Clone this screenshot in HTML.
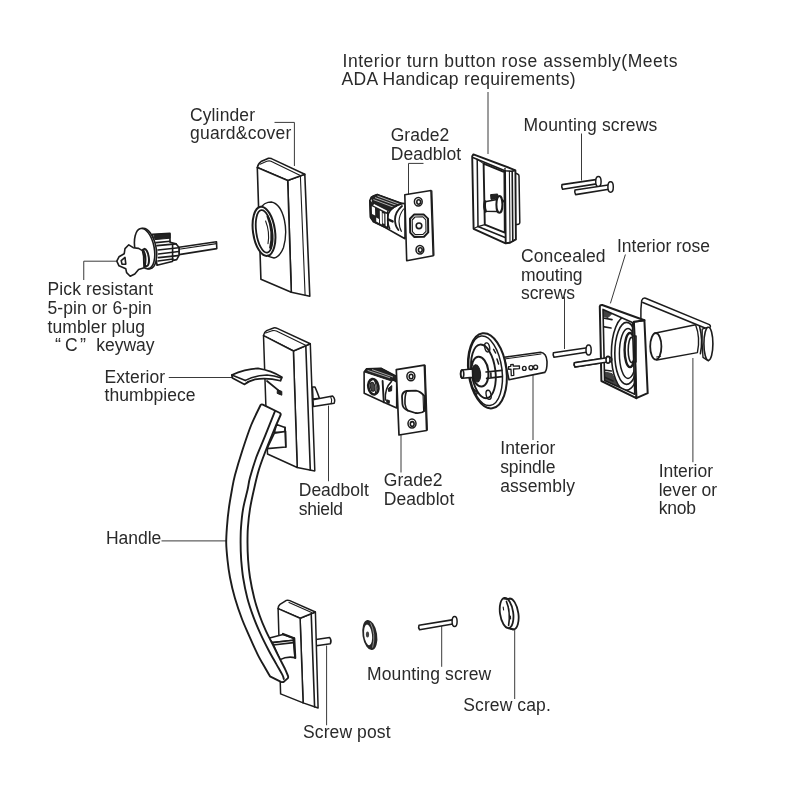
<!DOCTYPE html>
<html><head><meta charset="utf-8"><title>Handleset exploded diagram</title>
<style>
html,body{margin:0;padding:0;background:#fff;}
body{width:800px;height:800px;overflow:hidden;font-family:"Liberation Sans",sans-serif;}
svg{display:block;filter:blur(0.35px);}
text{font-family:"Liberation Sans",sans-serif;font-size:17.5px;fill:#2a2a2a;}
.ld{stroke:#3a3a3a;stroke-width:1;fill:none;}
.p{stroke:#1c1c1c;stroke-width:1.6;fill:#fff;stroke-linejoin:round;stroke-linecap:round;}
.n{stroke:#1c1c1c;stroke-width:1.6;fill:none;stroke-linejoin:round;stroke-linecap:round;}
.t{stroke:#1c1c1c;stroke-width:1.1;fill:none;stroke-linejoin:round;stroke-linecap:round;}
.k{stroke:#1c1c1c;stroke-width:2;fill:none;stroke-linejoin:round;stroke-linecap:round;}
.d{fill:#222;stroke:#1c1c1c;stroke-width:1;stroke-linejoin:round;}
</style></head>
<body>
<svg width="800" height="800" viewBox="0 0 800 800">
<rect width="800" height="800" fill="#ffffff"/>

<!-- ================= LABELS ================= -->
<g id="labels">
<text x="342.5" y="67" textLength="335" lengthAdjust="spacing">Interior turn button rose assembly(Meets</text>
<text x="341.5" y="85" textLength="234" lengthAdjust="spacing">ADA Handicap requirements)</text>
<text x="190" y="120.5" textLength="65" lengthAdjust="spacing">Cylinder</text>
<text x="190" y="139.2" textLength="101.3" lengthAdjust="spacing">guard&amp;cover</text>
<text x="390.7" y="140.7" textLength="58.5" lengthAdjust="spacing">Grade2</text>
<text x="390.7" y="159.5" textLength="70.5" lengthAdjust="spacing">Deadblot</text>
<text x="523.5" y="131" textLength="133.7" lengthAdjust="spacing">Mounting screws</text>
<text x="521" y="262" textLength="84.6" lengthAdjust="spacing">Concealed</text>
<text x="521" y="280.9" textLength="61.5" lengthAdjust="spacing">mouting</text>
<text x="521" y="298.9" textLength="54" lengthAdjust="spacing">screws</text>
<text x="617" y="252.1" textLength="93" lengthAdjust="spacing">Interior rose</text>
<text x="47.5" y="295" textLength="105.5" lengthAdjust="spacing">Pick resistant</text>
<text x="47.5" y="313.75" textLength="104.2" lengthAdjust="spacing">5-pin or 6-pin</text>
<text x="47.5" y="332.5" textLength="97.5" lengthAdjust="spacing">tumbler plug</text>
<text x="55" y="351.25" style="font-size:18px">“</text>
<text x="65" y="351.25">C</text>
<text x="80" y="351.25" style="font-size:18px">”</text>
<text x="96.25" y="351.25" textLength="58.2" lengthAdjust="spacing">keyway</text>
<text x="104.5" y="382.5" textLength="60.5" lengthAdjust="spacing">Exterior</text>
<text x="104.5" y="401.25" textLength="91" lengthAdjust="spacing">thumbpiece</text>
<text x="298.75" y="496.25" textLength="70" lengthAdjust="spacing">Deadbolt</text>
<text x="298.75" y="515" textLength="44.3" lengthAdjust="spacing">shield</text>
<text x="383.75" y="485.75" textLength="58.75" lengthAdjust="spacing">Grade2</text>
<text x="383.75" y="504.5" textLength="70.5" lengthAdjust="spacing">Deadblot</text>
<text x="500.15" y="454.45" textLength="55.25" lengthAdjust="spacing">Interior</text>
<text x="500.15" y="473" textLength="55.25" lengthAdjust="spacing">spindle</text>
<text x="500.15" y="491.5" textLength="74.75" lengthAdjust="spacing">assembly</text>
<text x="658.7" y="476.9" textLength="54.3" lengthAdjust="spacing">Interior</text>
<text x="658.7" y="495.7" textLength="58.5" lengthAdjust="spacing">lever or</text>
<text x="658.7" y="514.2" textLength="37.4" lengthAdjust="spacing">knob</text>
<text x="105.9" y="544.3" textLength="55.35" lengthAdjust="spacing">Handle</text>
<text x="367" y="679.75" textLength="124.25" lengthAdjust="spacing">Mounting screw</text>
<text x="463.25" y="711.25" textLength="87.5" lengthAdjust="spacing">Screw cap.</text>
<text x="303" y="737.5" textLength="87.5" lengthAdjust="spacing">Screw post</text>
</g>

<!-- ================= LEADERS ================= -->
<g id="leaders">
<path class="ld" d="M274.5 122.4H294.4V166"/>
<path class="ld" d="M423.5 163.4H408.5V200"/>
<path class="ld" d="M488 92V154"/>
<path class="ld" d="M581.5 133.5V180.5"/>
<path class="ld" d="M564.5 296.5V349"/>
<path class="ld" d="M625.4 254.5L610.4 303.4"/>
<path class="ld" d="M116.6 261.2H83.75V280"/>
<path class="ld" d="M168.75 377.5H232"/>
<path class="ld" d="M328.5 405.6V481.25"/>
<path class="ld" d="M401 435V472.5"/>
<path class="ld" d="M533 375V440"/>
<path class="ld" d="M692.9 358V462.2"/>
<path class="ld" d="M161.5 540.9H226"/>
<path class="ld" d="M441.7 625.4V666.8"/>
<path class="ld" d="M514.7 628V699"/>
<path class="ld" d="M326.6 645.6V725.25"/>
</g>

<!-- ===== KEY CYLINDER ===== -->
<g id="keycyl">
  <!-- tail bar -->
  <path class="p" d="M179 247.2L216.5 241.8L216.8 248.6L179 254.6Z"/>
  <path class="t" d="M179 249.2L216.6 243.6"/>
  <!-- body -->
  <path class="p" d="M152.5 234.3L170 233.4L170 242.3L176 243.8L179 247.5L179 255.3L176.7 259.6L173 260.4L172.2 261.5L157 265.2Z"/>
  <path class="d" d="M154 234.6L170 233.6L170 238.2L155 239.6Z"/>
  <path class="n" d="M156 242.6L170 241.2M157 245.6L176 243.9M158 250L178.8 247.7M158.5 254L178.8 251.5M158.5 257.6L178 255.6M158 261L173 259"/>
  <path class="n" d="M172.6 244.2L172.6 260.6"/>
  <!-- disc -->
  <ellipse class="p" cx="146.3" cy="248.6" rx="9.8" ry="20.6" transform="rotate(-11 146.3 248.6)"/>
  <ellipse class="p" cx="144.6" cy="248.6" rx="9.6" ry="20.4" transform="rotate(-11 144.6 248.6)"/>
  <!-- plug collar -->
  <ellipse class="k" cx="145.4" cy="257.6" rx="3.4" ry="8.8" transform="rotate(-8 145.4 257.6)" style="fill:#fff"/>
  <!-- key head -->
  <path class="p" d="M116.8 261.2L119 256.8L124.2 253.8L125 248.6L128.8 244.8L133.2 247.7L138.6 248.4L142.4 250.6L143.6 256L143.8 263L144.2 267.8L138.6 269.4L134.8 274L130.2 276.2L126.6 272.6L125.8 268.8L119 265.8Z"/>
  <path class="n" d="M121.2 260.6L125 257.4L125.8 264.2L122 264.2Z"/>
  <path class="n" d="M143.4 250.4Q146.6 256.6 144.6 266.6" style="stroke-width:2.2"/>
</g>

<!-- ===== CYLINDER GUARD ===== -->
<g id="guard">
  <!-- side face -->
  <path class="p" d="M287.7 180.4L304.8 174.2L309.8 296.3L291.3 292.3Z"/>
  <path class="t" d="M300.4 176.4L305.1 295.2"/>
  <!-- top face -->
  <path class="p" d="M257.3 167.6Q258 163.4 261 161.6L268 158.4Q269.6 158 271.4 158.6L304.8 174.2L287.7 180.4Z"/>
  <path class="t" d="M260 164.2L266.8 161.2Q269.4 160.6 271 161.2L299.8 175.2"/>
  <!-- front face -->
  <path class="p" d="M257.3 167.6L287.7 180.4L291.3 292.3L260.9 279.2Z"/>
  <!-- collar -->
  <path class="p" d="M261.4 206.8Q264.6 203 268 202.4L271.3 202Q280.6 203.6 284.4 220Q287.4 234 283.5 247.5Q280 256.8 274 258L268.4 256.4Z" style="stroke-width:1.4"/>
  <ellipse class="p" cx="264" cy="231.3" rx="11" ry="24.8" transform="rotate(-8 264 231.3)" style="stroke-width:2"/>
  <ellipse class="n" cx="264.2" cy="231.4" rx="8" ry="21.4" transform="rotate(-8 264.2 231.4)" style="stroke-width:1.8"/>
  <path class="n" d="M267.6 216.4Q274 232 270.2 247.8" style="stroke-width:2.2"/>
  <path class="t" d="M265.6 221Q270 232 268 243.6"/>
</g>

<!-- ===== UPPER LATCH ===== -->
<g id="latch1">
  <!-- dark body -->
  <path class="p" d="M369.8 200.6L371.2 197.2L377.2 194.4L402 203.4L405 203.6L405 238.8L397 234.2L384.8 227.4L373.4 221.8L370.4 217.2Z"/>
  <path class="d" d="M371.2 197.2L373.2 195.6L377.2 194.4L402 203.4L398.4 205.2L388 211L373 203Z"/>
  <path d="M373.4 199.6L394.6 207.6M375 197.6L397.6 205.8M377.4 196L400 204.4" stroke="#fff" stroke-width="0.8" fill="none" opacity="0.8"/>
  <path class="d" d="M369.8 200.8L373 203.2L388 211.2L388 228.4L384.8 227.4L373.4 221.8L370.4 217.2Z"/>
  <path d="M373.6 204.8L387 211.6" stroke="#fff" stroke-width="1.7" fill="none"/>
  <path d="M371.8 206.2L375 207.8L375.2 215.6L372 214Z M376.2 217.6L379 219L379 223L376.2 221.6Z M379.8 210.4L381.8 211.4L382 224.4L380 223.4Z M382.6 213L384.2 213.8L384.3 224L382.7 223.2Z M385.4 213.4L387 214L387 226.4L385.6 225.8Z" fill="#fff"/>
  <path class="n" d="M402 203.6Q392 206 388.4 213.6Q386.4 221 389.6 228.6"/>
  <path class="n" d="M402 206Q395 212 395 219.6Q395 226 398.4 230" style="stroke-width:1.8"/>
  <path class="t" d="M403.6 209Q399 215 399 221.6Q399.4 228 401.4 231.4"/>
  <path class="n" d="M388.6 219.6L392.6 221.4" style="stroke-width:2.4"/>
  <!-- faceplate -->
  <path class="p" d="M404.8 194.7L431 190.5L433.2 255.7L406.7 260.7Z" style="stroke-width:1.6"/>
  <path class="t" d="M431.9 190.8L434 255.2"/>
  <ellipse class="n" cx="418.3" cy="201.8" rx="3.9" ry="4.3" style="stroke-width:1.5"/>
  <ellipse class="n" cx="418.7" cy="202" rx="1.9" ry="2.2"/>
  <ellipse class="n" cx="419.9" cy="249.8" rx="3.9" ry="4.3" style="stroke-width:1.5"/>
  <ellipse class="n" cx="420.3" cy="250" rx="1.9" ry="2.2"/>
  <path class="n" d="M414 214.6L423.6 214.4L428 218.6L428.2 232.4L424 236.8L414.4 237L410.2 232.6L410 218.8Z" style="stroke-width:2"/>
  <path class="t" d="M415 217L423 216.8L425.8 219.8L426 231.4L423 234.4L415.2 234.6L412.4 231.6L412.2 220Z"/>
  <circle class="n" cx="419" cy="225.8" r="2.8"/>
</g>
<!-- ===== TURN BUTTON ROSE ===== -->
<g id="rose1">
  <!-- back tab -->
  <path class="p" d="M514 172.4L518 174.2Q519 174.6 519 176L519.8 222.6Q519.8 224 518.6 224.2L515 224.8Z" style="stroke-width:1.5"/>
  <!-- outer silhouette -->
  <path class="p" d="M472.2 156.2L473.4 154.4L511.8 168.8L515.4 170.4L515.9 239.4L510 242.8L505.6 243.3L473.6 228.8Z" style="stroke-width:1.9"/>
  <!-- top bar front edge + cap -->
  <path class="n" d="M473.4 157.8L505 170.8L511.6 171.2L515.2 170.6"/>
  <path class="t" d="M505 168.2L505 171"/>
  <!-- left bar inner edge -->
  <path class="n" d="M477.2 159.4L478 226.6" style="stroke-width:1.5"/>
  <!-- bottom bar -->
  <path class="n" d="M478 226.6L505.2 237.4"/>
  <path class="t" d="M473.8 228.6L478 226.6"/>
  <!-- right bar -->
  <path class="n" d="M505 171L505.7 243" style="stroke-width:1.9"/>
  <path class="t" d="M509.4 171.2L510 242.6"/>
  <path class="n" d="M512.2 171.2L512.8 241.2" style="stroke-width:1.6"/>
  <!-- opening -->
  <path class="p" d="M483.6 163.6L504.4 172.2L504.8 232.6L484.8 224.6Z" style="stroke-width:1.9"/>
  <path class="t" d="M478 226.6L484.8 224.6M477.2 159.4L483.6 163.6"/>
  <!-- stem -->
  <path class="p" d="M485 201.8L497 199.6L497.6 211.4L485.6 211.2Z" style="stroke-width:1.5"/>
  <path class="d" d="M490.6 194.6L497.6 194L498 198.6L491 199.4Z"/>
  <ellipse class="p" cx="499.4" cy="204.4" rx="3" ry="8.4" style="stroke-width:2"/>
  <path class="k" d="M485 201.6Q483.6 206.6 485.6 211.4" style="stroke-width:2.6"/>
  <path class="n" d="M502.6 200L505 203L504.8 208" style="stroke-width:1.6"/>
</g>

<!-- ===== MOUNTING SCREWS (top) ===== -->
<g id="mscrews">
  <path class="p" d="M562 184.6L597.6 179.4L598.2 183.6L562.6 189.2Q561.2 187 562 184.6Z"/>
  <ellipse class="p" cx="598.4" cy="181.6" rx="2.7" ry="5.2" style="stroke-width:1.5"/>
  <path class="p" d="M575 190L609.8 184.8L610.4 189L575.6 194.6Q574.2 192.4 575 190Z"/>
  <ellipse class="p" cx="610.6" cy="187" rx="2.7" ry="5.2" style="stroke-width:1.5"/>
</g>

<!-- ===== CONCEALED SCREWS ===== -->
<g id="cscrews">
  <path class="p" d="M553.4 352.8L587.4 347.8L588 352L554 357.2Q552.6 355 553.4 352.8Z"/>
  <ellipse class="p" cx="588.6" cy="350" rx="2.6" ry="5" style="stroke-width:1.5"/>
  <path class="p" d="M574.4 362.8L608 357.6L608.6 361.8L575 367Q573.6 365 574.4 362.8Z"/>
</g>

<!-- ===== INTERIOR LEVER ===== -->
<g id="lever">
  <!-- plate -->
  <path d="M641.8 300Q643 297.8 645.4 298.2L709 324.4L710.4 327.4L704.6 330L641 320Q640.6 309 641.8 300Z" fill="#fff"/>
  <path class="n" d="M640.9 318.6Q640.6 308 641.7 300.4Q642.8 297.6 645.6 298.2L709.4 324.6Q710.6 325.4 710.4 327" style="stroke-width:1.5"/>
  <path class="n" d="M642.8 302.4L705.6 328.2"/>
  <!-- shank -->
  <path class="p" d="M654.4 333.2L695.6 324.8Q700.6 338 697.4 352.6L656.8 360Z" style="stroke-width:1.4"/>
  <path class="n" d="M699.6 326.6Q703.2 340 700.4 353.6"/>
  <ellipse class="p" cx="655.8" cy="346.4" rx="5.6" ry="13.2" style="stroke-width:1.8"/>
  <path class="t" d="M656.6 357L660.6 356.2"/>
  <!-- paddle -->
  <path class="p" d="M702.2 329.2L707.6 327.4L708.4 360.8L703 357.4Q701.6 343 702.2 329.2Z" style="stroke-width:1.4"/>
  <ellipse class="p" cx="708.4" cy="343.8" rx="4.5" ry="16.6" style="stroke-width:1.6"/>
</g>

<!-- ===== INTERIOR ROSE ===== -->
<g id="rose2">
  <defs><clipPath id="r2c"><path d="M603 309.4L632.4 322.6L634.8 394.2L604.6 380.4Z"/></clipPath></defs>
  <!-- side wall -->
  <path class="p" d="M633.9 321.7L644.4 320.2L647.7 393.2L636.3 398.2Z" style="stroke-width:2"/>
  <!-- rim -->
  <path class="p" d="M599.8 306.4Q600 304.8 602.2 305L644.4 320.2L633.9 321.7L636.3 398.2L601.4 381Z" style="stroke-width:2"/>
  <path class="p" d="M603 309.4L632.4 322.6L634.8 394.2L604.6 380.4Z"/>
  <g clip-path="url(#r2c)">
    <ellipse class="n" cx="626" cy="353.4" rx="14.6" ry="37" style="stroke-width:1.6"/>
    <ellipse class="n" cx="626.6" cy="353.4" rx="11.8" ry="31"/>
    <ellipse class="n" cx="628" cy="353.4" rx="8.6" ry="25" style="stroke-width:1.5"/>
    <ellipse class="n" cx="630" cy="350" rx="5.4" ry="17" style="stroke-width:2.4"/>
    <ellipse class="n" cx="631.6" cy="350" rx="3.4" ry="12.6"/>
    <path class="n" d="M603 318L612 319.6M603 326.6L611 328M603.6 370L611.4 371M604.2 377L613 381" />
    <path class="d" d="M604.8 372L612 373.6L618 386L604.8 380Z" opacity="0.85"/>
    <path class="d" d="M603.4 310L612 313.6L608 317.6L603.4 316.4Z" opacity="0.85"/>
  </g>
  <path class="n" d="M632.4 336L636 336L636 362L633 362"/>
  <circle class="p" cx="609.4" cy="359.6" r="2.4"/>
  <path class="p" d="M574.4 362.8L607 357.8L607.6 362L575 367Q573.6 365 574.4 362.8Z"/>
  <ellipse class="p" cx="608" cy="359.8" rx="2" ry="3.4"/>
</g>

<!-- ===== SPINDLE ===== -->
<g id="spindle">
  <!-- tube -->
  <path class="p" d="M504.4 357.2L540.6 352.2Q546.6 353 547 361.4Q547.2 370 544.8 372.4L509 379.8Z"/>
  <path class="t" d="M506 358.8L541 354"/>
  <path class="d" d="M508.6 366.6L510.8 366.4L510.7 364.6L513.2 364.4L513.3 366.2L519.4 365.8L519.5 368.6L513.5 369L513.8 375.4L511.3 375.6L511 369.2L508.7 369.4Z" style="fill:#fff;stroke-width:1.3"/>
  <ellipse class="n" cx="524.3" cy="368.4" rx="1.8" ry="2" style="stroke-width:1.4"/>
  <ellipse class="n" cx="531" cy="367.7" rx="2" ry="2.1" style="stroke-width:1.4"/>
  <ellipse class="n" cx="535.6" cy="367.2" rx="2" ry="2.1" style="stroke-width:1.4"/>
  <!-- disc -->
  <ellipse class="p" cx="487.4" cy="370.8" rx="19" ry="37.8" transform="rotate(-7.3 487.4 370.8)" style="stroke-width:2"/>
  <ellipse class="n" cx="485.6" cy="370.8" rx="16.4" ry="35" transform="rotate(-7.3 485.6 370.8)" style="stroke-width:1.5"/>
  <ellipse class="n" cx="483.4" cy="371.4" rx="12" ry="27" transform="rotate(-7.3 483.4 371.4)" style="stroke-width:1.9"/>
  <ellipse class="n" cx="480" cy="371.6" rx="8.4" ry="15" transform="rotate(-7.3 480 371.6)" style="stroke-width:2"/>
  <ellipse class="n" cx="487.2" cy="347.4" rx="2.4" ry="4.6" transform="rotate(-12 487.2 347.4)" style="stroke-width:1.4"/>
  <ellipse class="n" cx="488.6" cy="394.8" rx="2.4" ry="4.6" transform="rotate(-12 488.6 394.8)" style="stroke-width:1.4"/>
  <path class="n" d="M473 388.6L477.4 392.8L476 395.2M493.6 349.4L495.6 353M497 359L498.6 364" style="stroke-width:1.5"/>
  <path class="n" d="M486 372L502 370.4M486.6 378.4L502 376.6M490.8 371.6L491 378" style="stroke-width:1.6"/>
  <ellipse class="d" cx="476.4" cy="373.4" rx="4.2" ry="8.6" transform="rotate(-7 476.4 373.4)"/>
  <!-- stub -->
  <path class="p" d="M461.6 370L472.4 369L472.8 377.4L462 378.2Q459.4 374.4 461.6 370Z" style="stroke-width:1.6"/>
  <ellipse class="n" cx="462.2" cy="374.1" rx="1.6" ry="4"/>
</g>
<!-- ===== UPPER PLATE ===== -->
<g id="uplate">
  <!-- post -->
  <path class="p" d="M312.4 387L315 387L317.2 392.2L319.4 398.2L313 399Z"/>
  <path class="p" d="M313 399.8L332.6 396Q335.8 399 334.2 403.2L313.4 406.6Z" style="stroke-width:1.5"/>
  <path class="t" d="M330.6 396.6Q332.4 400 331.2 403.6"/>
  <!-- side face -->
  <path class="p" d="M293.4 351L310.3 343.8L314.8 470.9L297.2 467.5Z" style="stroke-width:1.5"/>
  <path class="n" d="M305.8 345.6L310.3 470.2"/>
  <!-- top face -->
  <path class="p" d="M263.5 335.6Q264 332 266.6 330.6L273.6 328Q275.4 327.6 277.2 328.4L310.3 343.8L293.4 351Z" style="stroke-width:1.5"/>
  <path class="t" d="M265.6 333L272.8 330.6Q274.6 330.2 276.4 331L305.6 345.2"/>
  <!-- front face -->
  <path class="p" d="M263.5 335.6L293.4 351L297.2 467.5L267.5 454Z" style="stroke-width:1.5"/>
  <!-- slot -->
  <path class="n" d="M267 381L280 391.6" style="stroke-width:1.8"/>
  <path class="d" d="M277.4 389.8L281.8 391.4L281.8 395.2L277.2 393.4Z"/>
  <!-- thumbpiece -->
  <path class="p" d="M231.8 375Q244.5 369.2 258 368.4Q271.5 370.6 282 377.2L280.5 380.8Q267 377.4 255 379.4Q249 380.8 244.6 384.4L232.4 378Z" style="stroke-width:1.7"/>
  <path class="n" d="M245.4 380.4Q255 375.4 267 375Q274 375.6 281.4 378"/>
  <path class="n" d="M231.8 375L245.4 380.4"/>
  <!-- connector block -->
  <path class="p" d="M276.6 424.4L285 427.4L285 432.2L274.4 432.2Z"/>
  <path class="p" d="M274.4 433.2L285.6 431.4L285.8 447L267 448.6Z"/>
  <path class="n" d="M285 427.4L285.8 447.2" style="stroke-width:1.6"/>
</g>



<!-- ===== LOWER PLATE ===== -->
<g id="lplate">
  <!-- post -->
  <path class="p" d="M316 639.4L329.6 637.4Q332 640.4 330.4 643.8L316.4 645.8Z" style="stroke-width:1.5"/>
  <!-- side -->
  <path class="p" d="M300.1 618.3L315.4 612L318.1 708L303.1 702.9Z" style="stroke-width:1.5"/>
  <path class="n" d="M311.2 613.4L314.6 707"/>
  <!-- top -->
  <path class="p" d="M278.1 608.6Q278.2 606 280 604.4L286.4 600.4Q288 599.8 289.8 600.6L315.4 612L300.1 618.3Z" style="stroke-width:1.5"/>
  <path class="t" d="M289 602.4L311.6 612.6"/>
  <!-- front -->
  <path class="p" d="M278.1 608.6L300.1 618.3L303.1 702.9L280.6 693.9Z" style="stroke-width:1.5"/>
  <!-- connector -->
  <path class="p" d="M268.6 638.2L283 634.4L293.2 638L293.4 640.2L272.4 642.6Z"/>
  <path class="n" d="M283 634L294 638.2" style="stroke-width:2.2"/>
  <path class="p" d="M272.4 642.6L293.4 640.2L295 657.6Q287 656 280 659.6Z"/>
  <path class="n" d="M273.2 645L293.4 642.6"/>
  <path class="n" d="M294.2 638.4L295.2 658" style="stroke-width:2.2"/>
</g>
<!-- ===== HANDLE ===== -->
<g id="handle">
  <path class="p" d="M260.6 405Q261.4 404 262.8 404.6L280 413Q281 413.8 280.6 415C279.2 418.1 275.1 427.5 272.5 433.8C269.9 440.0 267.3 446.5 265.0 452.5C262.7 458.5 260.5 464.2 258.8 470.0C257.0 475.8 255.9 481.0 254.4 487.5C252.9 494.0 251.1 502.1 250.0 508.8C248.9 515.4 248.3 521.9 247.9 527.5C247.5 533.1 247.5 537.1 247.5 542.5C247.5 547.9 247.7 554.2 248.1 560.0C248.5 565.8 249.0 571.2 250.0 577.5C251.0 583.8 252.6 591.5 254.2 597.9C255.8 604.3 257.8 610.3 259.7 615.8C261.6 621.3 263.7 626.1 265.9 630.9C268.1 635.7 270.5 640.1 272.8 644.7C275.1 649.3 277.5 654.3 279.6 658.4C281.7 662.5 283.8 666.5 285.2 669.4C286.6 672.3 287.4 674.6 287.9 675.6Q288.6 677.4 287.6 678.4L284 681.6Q282.8 682.4 281 681.9L270 676.3C269.2 674.9 267.3 671.7 265.2 668.0C263.1 664.3 260.2 659.6 257.6 654.3C255.0 649.0 252.0 642.4 249.4 636.4C246.8 630.4 244.2 624.9 241.8 618.5C239.4 612.1 236.9 604.7 234.9 597.9C232.9 591.1 231.2 583.8 230.0 577.5C228.8 571.2 228.1 565.8 227.5 560.0C226.9 554.2 226.3 547.9 226.2 542.5C226.2 537.1 226.5 533.1 226.9 527.5C227.3 521.9 227.9 515.0 228.8 508.8C229.6 502.5 230.9 495.6 231.9 490.0C232.9 484.4 233.2 481.7 235.0 475.0C236.8 468.3 239.8 458.3 242.5 450.0C245.2 441.7 248.2 432.5 251.2 425.0C254.3 417.5 259.0 408.3 260.6 405.0Z" style="stroke-width:1.9"/>
  <path class="n" d="M275.0 411.2C273.3 415.4 268.1 428.5 265.0 436.2C261.9 444.0 258.8 450.6 256.2 457.5C253.8 464.4 251.5 472.1 250.0 477.5C248.5 482.9 248.7 484.8 247.5 490.0C246.3 495.2 244.2 502.5 243.1 508.8C242.0 515.0 241.4 521.9 241.0 527.5C240.6 533.1 240.6 537.1 240.6 542.5C240.6 547.9 240.8 554.2 241.2 560.0C241.7 565.8 242.1 571.2 243.1 577.5C244.1 583.8 245.6 591.3 247.3 597.9C249.0 604.5 251.3 611.1 253.5 617.1C255.7 623.1 257.9 628.1 260.4 633.6C262.9 639.1 266.0 645.2 268.6 650.2C271.2 655.2 273.9 659.8 276.2 663.9C278.5 668.0 281.1 672.4 282.4 674.9C283.7 677.4 283.6 678.3 283.8 679.0" style="stroke-width:1.9"/>
</g>


<!-- ===== LOWER LATCH ===== -->
<g id="latch2">
  <path class="p" d="M364.1 372L366.6 368.8L381.4 368.4L396.7 376.4L396.7 408L383.8 402.2L364.2 393.2Z" style="stroke-width:1.6"/>
  <path class="d" d="M366.6 368.8L381.4 368.4L396.6 376.6L396.6 379.4L391.6 381L364.6 372Z"/>
  <path d="M367.6 370.4L390 377.8M372 369.6L393 377" stroke="#fff" stroke-width="0.7" fill="none" opacity="0.85"/>
  <ellipse class="n" cx="373.4" cy="386.8" rx="5" ry="7.8" transform="rotate(-10 373.4 386.8)" style="stroke-width:2.6"/>
  <ellipse class="d" cx="372.6" cy="386.8" rx="2.2" ry="4.6" transform="rotate(-10 372.6 386.8)" style="fill:#444"/>
  <path class="n" d="M374.6 380.6Q377.4 387 375.4 393" style="stroke-width:1.2"/>
  <path class="n" d="M382.6 381L383.8 402.2" style="stroke-width:1.9"/>
  <path class="n" d="M391.4 381.6Q384.6 388 385.4 400" style="stroke-width:1.5"/>
  <path class="d" d="M388.2 388.6L391.8 385.6L391.6 390.8L388.6 391.4Z"/>
  <path class="d" d="M386.6 399.8L389.4 400.6L389.2 403.4L386.8 402.6Z"/>
  <path class="n" d="M393.4 379.6L396.6 381.6" style="stroke-width:2.4"/>
  <!-- faceplate -->
  <path class="p" d="M396.3 369.7L424.4 365.2L426.6 430.5L399 435Z" style="stroke-width:1.7"/>
  <path class="t" d="M425.2 365.4L427.4 430"/>
  <ellipse class="n" cx="410.9" cy="376.2" rx="4" ry="4.5" style="stroke-width:1.5"/>
  <ellipse class="n" cx="411.1" cy="376.5" rx="1.9" ry="2.3"/>
  <ellipse class="n" cx="412" cy="423.6" rx="4" ry="4.5" style="stroke-width:1.5"/>
  <ellipse class="n" cx="412.2" cy="423.9" rx="1.9" ry="2.3"/>
  <!-- bolt -->
  <path class="n" d="M402 396Q402.4 392 406.6 391L416 390.6Q420.6 391.4 424.4 396L425 410.6Q421.6 413.8 415.4 413L408 410.6Q402.6 408.6 402.4 404Z" style="stroke-width:1.8"/>
  <path class="n" d="M406.6 391Q404.6 396 405 404Q405.6 408.6 408 410.6"/>
  <path class="t" d="M423 394.6L423.6 411.4"/>
</g>

<!-- ===== WASHER ===== -->
<g id="washer">
  <ellipse cx="369.8" cy="635" rx="7.3" ry="15.2" transform="rotate(-9 369.8 635)" fill="#262626"/>
  <ellipse cx="368.1" cy="634.9" rx="3.9" ry="10.4" transform="rotate(-7 368.1 634.9)" fill="#fff"/>
  <path d="M370.4 622.6Q376 634 372.6 647.6" stroke="#fff" stroke-width="0.9" fill="none" opacity="0.55"/>
  <ellipse cx="367.5" cy="634.6" rx="1.6" ry="3" fill="#444"/>
</g>

<!-- ===== MOUNTING SCREW (bottom) ===== -->
<g id="mscrew">
  <path class="p" d="M419 625.2L453.6 619.6L454.2 623.8L419.6 629.8Q418 627.6 419 625.2Z"/>
  <ellipse class="p" cx="454.6" cy="621.6" rx="2.5" ry="5" style="stroke-width:1.5"/>
</g>

<!-- ===== SCREW CAP ===== -->
<g id="cap">
  <ellipse class="p" cx="511.4" cy="614" rx="7" ry="15.6" transform="rotate(-8 511.4 614)" style="stroke-width:1.8"/>
  <ellipse class="p" cx="506.6" cy="613" rx="6.6" ry="15.2" transform="rotate(-8 506.6 613)" style="stroke-width:1.8"/>
  <path class="n" d="M504 598.6L509 599.4M508.6 628.4L513.4 629.4" style="stroke-width:1.6"/>
  <path class="n" d="M506.4 601.4Q510.8 612 508.6 625.4"/>
  <path class="t" d="M503.2 607L503.6 610M510.4 616L510.6 619"/>
</g>



</svg>
</body></html>
